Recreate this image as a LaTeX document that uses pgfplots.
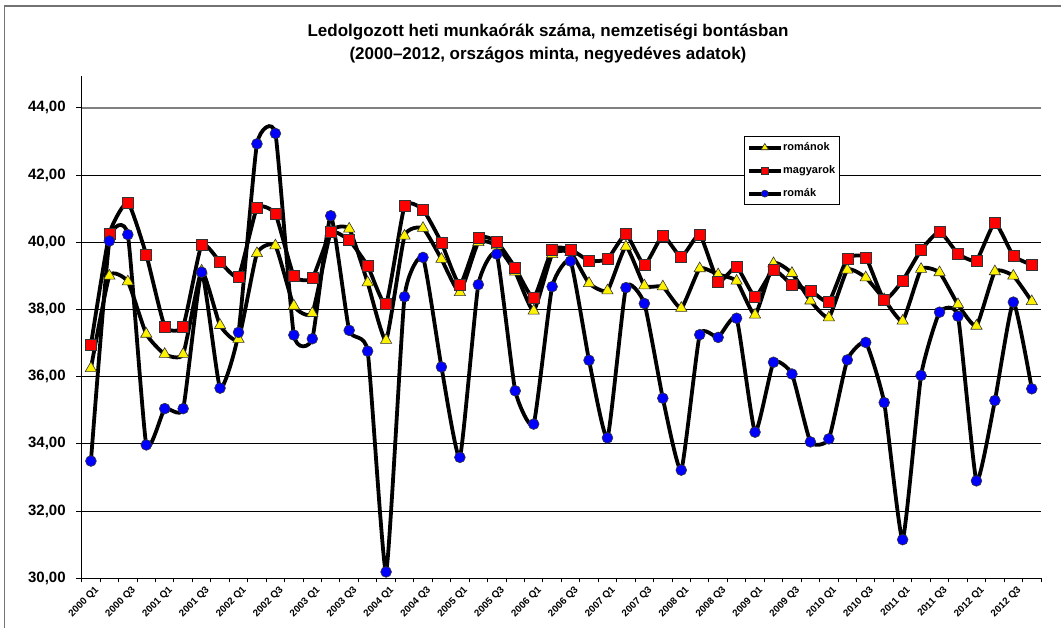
\documentclass[border=0pt]{standalone}
\usepackage{fontspec}
\setmainfont{Liberation Sans}
\usepackage{pgfplots}
\pgfplotsset{compat=1.18}
\usepackage{pgfplotstable}

\pgfplotstableread{
x y
0 36.25
1 39.00
2 38.83
3 37.27
4 36.67
5 36.67
6 39.15
7 37.53
8 37.12
9 39.67
10 39.90
11 38.11
12 37.89
13 40.30
14 40.40
15 38.80
16 37.09
17 40.19
18 40.42
19 39.50
20 38.51
21 40.00
22 39.90
23 39.12
24 37.96
25 39.64
26 39.70
27 38.78
28 38.56
29 39.87
30 38.71
31 38.68
32 38.04
33 39.22
34 39.04
35 38.85
36 37.84
37 39.37
38 39.08
39 38.26
40 37.76
41 39.18
42 38.95
43 38.30
44 37.66
45 39.20
46 39.10
47 38.15
48 37.51
49 39.13
50 39.00
51 38.24
}\romanok

\pgfplotstableread{
x y
0 36.95
1 40.25
2 41.19
3 39.63
4 37.50
5 37.50
6 39.93
7 39.42
8 38.98
9 41.02
10 40.84
11 39.00
12 38.93
13 40.30
14 40.06
15 39.30
16 38.17
17 41.08
18 40.97
19 39.99
20 38.73
21 40.14
22 40.02
23 39.24
24 38.34
25 39.79
26 39.79
27 39.45
28 39.50
29 40.24
30 39.32
31 40.20
32 39.56
33 40.23
34 38.83
35 39.27
36 38.38
37 39.18
38 38.74
39 38.57
40 38.23
41 39.52
42 39.55
43 38.29
44 38.86
45 39.77
46 40.32
47 39.66
48 39.46
49 40.58
50 39.60
51 39.33
}\magyarok

\pgfplotstableread{
x y
0 33.49
1 40.04
2 40.23
3 33.97
4 35.05
5 35.05
6 39.11
7 35.66
8 37.32
9 42.93
10 43.24
11 37.24
12 37.13
13 40.79
14 37.38
15 36.76
16 30.19
17 38.38
18 39.55
19 36.29
20 33.60
21 38.74
22 39.65
23 35.58
24 34.59
25 38.68
26 39.44
27 36.49
28 34.18
29 38.65
30 38.18
31 35.36
32 33.22
33 37.25
34 37.17
35 37.74
36 34.35
37 36.43
38 36.08
39 34.06
40 34.15
41 36.50
42 37.02
43 35.23
44 31.15
45 36.04
46 37.92
47 37.80
48 32.90
49 35.29
50 38.22
51 35.64
}\romak

\begin{document}
\begin{tikzpicture}
\useasboundingbox (0pt,0pt) rectangle (1061pt,627pt);
\clip (0pt,0pt) rectangle (1061pt,627pt);
\fill[white] (0pt,0pt) rectangle (1061pt,627pt);
\draw[black!55, line width=1.5pt] (4.5pt,621pt) rectangle (1090pt,-30pt);
\node[font=\bfseries\fontsize{17}{17}\selectfont, anchor=base] at (548pt,590pt) {Ledolgozott heti munkaórák száma, nemzetiségi bontásban};
\node[font=\bfseries\fontsize{17}{17}\selectfont, anchor=base] at (548pt,567pt) {(2000–2012, országos minta, negyedéves adatok)};
\begin{axis}[
  at={(81.7pt,48.7pt)}, anchor=south west,
  scale only axis, width=959.3pt, height=502.3pt,
  xmin=-0.5, xmax=51.5, ymin=30, ymax=44.95,
  axis x line*=bottom, axis y line*=left,
  axis line style={line width=1pt, black},
  tick align=outside,
  xtick={0,2,...,50},
  xticklabels={2000 Q1,2000 Q3,2001 Q1,2001 Q3,2002 Q1,2002 Q3,2003 Q1,2003 Q3,2004 Q1,2004 Q3,2005 Q1,2005 Q3,2006 Q1,2006 Q3,2007 Q1,2007 Q3,2008 Q1,2008 Q3,2009 Q1,2009 Q3,2010 Q1,2010 Q3,2011 Q1,2011 Q3,2012 Q1,2012 Q3},
  major x tick style={draw=none},
  minor xtick={-0.5,0.5,...,51.5},
  minor tick length=4pt,
  minor x tick style={black, line width=1pt},
  major tick length=5.5pt,
  tick style={black, line width=1pt},
  xticklabel style={rotate=45, anchor=east, font=\bfseries\fontsize{9.8}{9.8}\selectfont, inner sep=1pt, xshift=2pt, yshift=-8pt},
  ytick={30,32,...,42},
  extra y ticks={44},
  extra y tick style={grid style={black!50, line width=1.5pt}},
  ymajorgrids,
  grid style={black, line width=0.9pt},
  yticklabel style={font=\bfseries\fontsize{15}{15}\selectfont, xshift=-7pt, /pgf/number format/.cd, fixed, fixed zerofill, precision=2, use comma, assume math mode=true},
  legend style={at={(0.6904,0.8806)}, anchor=north west, draw=black, line width=0.8pt, fill=white,
    font=\bfseries\fontsize{11}{11}\selectfont, inner xsep=3pt, inner ysep=4pt, row sep=8.5pt,
    nodes={text height=8pt, text depth=2.5pt, inner ysep=2pt, inner xsep=1pt}, cells={anchor=west}},
  legend image code/.code={\draw[mark repeat=2,mark phase=2,#1, every mark/.append style={scale=0.65}] plot coordinates {(0pt,0pt) (15.5pt,0pt) (31pt,0pt)};},
  every axis plot/.append style={line width=3.8pt, black, smooth, tension=0.28},
]
\addplot[mark=triangle*, mark size=6.5pt, mark options={fill=yellow, draw=black!80, line width=0.6pt}] table {\romanok};
\addlegendentry{románok}
\addplot[mark=square*, mark size=5.5pt, mark options={fill=red, draw=black!80, line width=0.6pt}] table {\magyarok};
\addlegendentry{magyarok}
\addplot[mark=*, mark size=5.4pt, mark options={fill=blue, draw=black!80, line width=0.6pt}] table {\romak};
\addlegendentry{romák}
\end{axis}
\end{tikzpicture}
\end{document}
